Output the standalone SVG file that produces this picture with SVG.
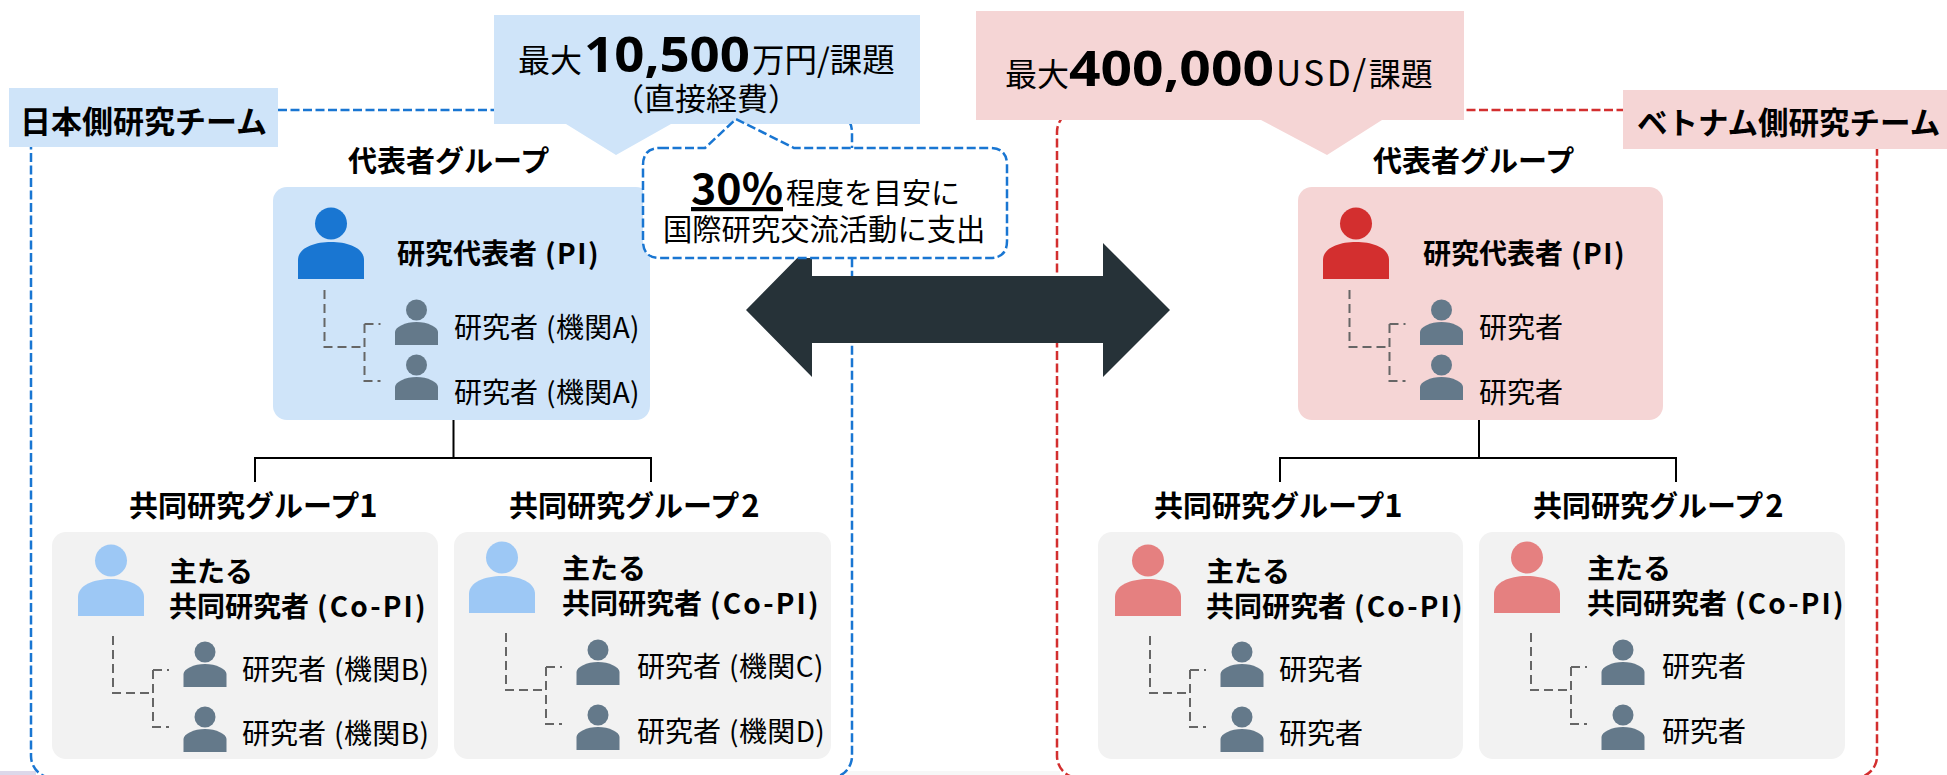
<svg xmlns="http://www.w3.org/2000/svg" xmlns:xlink="http://www.w3.org/1999/xlink" width="1947" height="775" viewBox="0 0 1947 775">
<style>
text{font-family:"Noto Sans CJK JP","Noto Sans",sans-serif;fill:#000;font-weight:500}
.s{font-size:28px;font-weight:400}
.m{font-size:28px;font-weight:700}
.t{font-size:29px;font-weight:700}
.c{font-size:31px;font-weight:400}
.n{font-size:48px;font-weight:700;font-family:"Noto Sans","Noto Sans CJK JP",sans-serif}
.team{font-size:31px;font-weight:700}
.bf{fill:#cfe4f9}.rf{fill:#f5d5d5}.gf{fill:#f2f2f2}
.tree{fill:none;stroke:#000;stroke-width:2}
.dash{fill:none;stroke:#666;stroke-width:2;stroke-dasharray:9 5}
.team-b{fill:#fff;stroke:#1976d2;stroke-width:2.500;stroke-dasharray:9 3.500}
.team-r{fill:#fff;stroke:#d32f2f;stroke-width:2.500;stroke-dasharray:9 3.500}
.pb{fill:#1976d2}.pr{fill:#d32f2f}.plb{fill:#9dc8f5}.plr{fill:#e58080}.ps{fill:#64798a}
</style>
<defs>
<g id="big"><ellipse cx="0" cy="-36.500" rx="16" ry="16"/><path d="M-33 19V0C-33-12-17-18 0-18S33-12 33 0V19Z"/></g>
<g id="small"><circle cx="0" cy="-23" r="10.500"/><path d="M-21.500 12V-1C-21.500-6-11-11 0-11S21.500-6 21.500-1V12Z"/></g>
<path id="dashes" d="M0 0V57H40M40 34V91H56M40 34H56"/>
</defs>
<rect x="0" y="771" width="36" height="4" fill="#dcd8ea"/>
<rect x="846" y="771" width="214" height="4" fill="#f7f7f7"/>
<g id="connectors">
<rect class="team-b" x="31" y="110" width="821" height="668" rx="22"/>
<rect class="team-r" x="1057" y="110" width="820" height="668" rx="22"/>
<path class="tree" d="M453.500 420V458M255 482V458H651V482"/>
<path class="tree" d="M1479 420V458M1280 482V458H1676V482"/>
</g>
<g id="team-jp"><rect class="bf" x="9" y="88" width="269" height="59"/><text class="team" x="20" y="133">日本側研究チーム</text></g>
<g id="team-vn"><rect class="rf" x="1623" y="90" width="324" height="59"/><text class="team" x="1637" y="134" style="font-size:30.500px">ベトナム側研究チーム</text></g>
<g id="budget-jp"><path class="bf" d="M494 15H920V124H671L616 155L566 124H494Z"/>
<text class="c" x="518" y="72" style="font-size:32px">最大</text>
<text class="n" x="584" y="72" textLength="166" lengthAdjust="spacingAndGlyphs">10,500</text>
<text class="c" x="752" y="72" style="font-size:32.500px">万円/課題</text>
<text class="c" x="706" y="110" text-anchor="middle">（直接経費）</text></g>
<g id="budget-vn"><path class="rf" d="M976 11H1464V120H1382L1327 155L1261 120H976Z"/>
<text class="c" x="1005" y="86" style="font-size:32px">最大</text>
<text class="n" x="1069" y="86" textLength="205" lengthAdjust="spacingAndGlyphs">400,000</text>
<text class="c" x="1276" y="86" style="font-size:32px"><tspan font-size="35" letter-spacing="2.500">USD/</tspan>課題</text></g>
<g id="pi-jp"><rect class="bf" x="273" y="187" width="377" height="233" rx="14"/>
<use xlink:href="#big" class="pb" x="331" y="260"/>
<text class="m" x="397" y="264">研究代表者<tspan dx="8" letter-spacing="1.500">(PI)</tspan></text>
<use xlink:href="#small" class="ps" x="416.500" y="333"/><text class="s" x="454" y="338">研究者<tspan dx="8" letter-spacing="0.400">(機関A)</tspan></text>
<use xlink:href="#small" class="ps" x="416.500" y="388"/><text class="s" x="454" y="403">研究者<tspan dx="8" letter-spacing="0.400">(機関A)</tspan></text>
<use xlink:href="#dashes" class="dash" x="324.500" y="290"/>
</g>
<text class="t" x="348" y="172">代表者グループ</text>
<g id="pi-vn"><rect class="rf" x="1298" y="187" width="365" height="233" rx="14"/>
<use xlink:href="#big" class="pr" x="1356" y="260"/>
<text class="m" x="1423" y="264">研究代表者<tspan dx="8" letter-spacing="1.500">(PI)</tspan></text>
<use xlink:href="#small" class="ps" x="1441.500" y="333"/><text class="s" x="1479" y="338">研究者</text>
<use xlink:href="#small" class="ps" x="1441.500" y="388"/><text class="s" x="1479" y="403">研究者</text>
<use xlink:href="#dashes" class="dash" x="1349.500" y="290"/>
</g>
<text class="t" x="1373" y="172">代表者グループ</text>
<path id="arrow" fill="#263238" d="M746 310L812 243V276H1103V243L1170 310L1103 377V343H812V377Z"/>
<g id="note"><path fill="#fff" stroke="#1976d2" stroke-width="2.500" stroke-dasharray="9 3.500" d="M660 148H705L736 119L794 148H990Q1007 148 1007 165V241Q1007 258 990 258H660Q643 258 643 241V165Q643 148 660 148Z"/>
<text x="691" y="204" class="n" text-decoration="underline" textLength="92" lengthAdjust="spacingAndGlyphs" style="font-size:42px;font-family:'Noto Sans CJK JP'">30%</text>
<text class="c" x="786" y="204" style="font-size:29px">程度を目安に</text>
<text class="c" x="663" y="240" style="font-size:29.300px">国際研究交流活動に支出</text></g>
<text class="t" x="129" y="517">共同研究グループ<tspan font-size="31">1</tspan></text>
<text class="t" x="509" y="517">共同研究グループ<tspan font-size="31" dx="2">2</tspan></text>
<text class="t" x="1154" y="517">共同研究グループ<tspan font-size="31">1</tspan></text>
<text class="t" x="1533" y="517">共同研究グループ<tspan font-size="31" dx="2">2</tspan></text>
<g id="g1-jp"><rect class="gf" x="52" y="532" width="386" height="227" rx="14"/>
<use xlink:href="#big" class="plb" x="111" y="597"/>
<text class="m" x="169" y="582">主たる</text><text class="m" x="169" y="617">共同研究者<tspan dx="8" letter-spacing="2.200">(Co-PI)</tspan></text>
<use xlink:href="#small" class="ps" x="205" y="675"/><text class="s" x="242" y="680">研究者<tspan dx="8" letter-spacing="0.400">(機関B)</tspan></text>
<use xlink:href="#small" class="ps" x="205" y="740"/><text class="s" x="242" y="744">研究者<tspan dx="8" letter-spacing="0.400">(機関B)</tspan></text>
<use xlink:href="#dashes" class="dash" x="113" y="636"/>
</g>
<g id="g2-jp"><rect class="gf" x="454" y="532" width="377" height="227" rx="14"/>
<use xlink:href="#big" class="plb" x="502" y="594"/>
<text class="m" x="562" y="579">主たる</text><text class="m" x="562" y="614">共同研究者<tspan dx="8" letter-spacing="2.200">(Co-PI)</tspan></text>
<use xlink:href="#small" class="ps" x="598" y="673"/><text class="s" x="637" y="677">研究者<tspan dx="8" letter-spacing="0.400">(機関C)</tspan></text>
<use xlink:href="#small" class="ps" x="598" y="738"/><text class="s" x="637" y="742">研究者<tspan dx="8" letter-spacing="0.400">(機関D)</tspan></text>
<use xlink:href="#dashes" class="dash" x="506" y="633"/>
</g>
<g id="g1-vn"><rect class="gf" x="1098" y="532" width="365" height="227" rx="14"/>
<use xlink:href="#big" class="plr" x="1148" y="597"/>
<text class="m" x="1206" y="582">主たる</text><text class="m" x="1206" y="617">共同研究者<tspan dx="8" letter-spacing="2.200">(Co-PI)</tspan></text>
<use xlink:href="#small" class="ps" x="1242" y="675"/><text class="s" x="1279" y="680">研究者</text>
<use xlink:href="#small" class="ps" x="1242" y="740"/><text class="s" x="1279" y="744">研究者</text>
<use xlink:href="#dashes" class="dash" x="1150" y="636"/>
</g>
<g id="g2-vn"><rect class="gf" x="1479" y="532" width="366" height="227" rx="14"/>
<use xlink:href="#big" class="plr" x="1527" y="594"/>
<text class="m" x="1587" y="579">主たる</text><text class="m" x="1587" y="614">共同研究者<tspan dx="8" letter-spacing="2.200">(Co-PI)</tspan></text>
<use xlink:href="#small" class="ps" x="1623" y="673"/><text class="s" x="1662" y="677">研究者</text>
<use xlink:href="#small" class="ps" x="1623" y="738"/><text class="s" x="1662" y="742">研究者</text>
<use xlink:href="#dashes" class="dash" x="1531" y="633"/>
</g>
</svg>
